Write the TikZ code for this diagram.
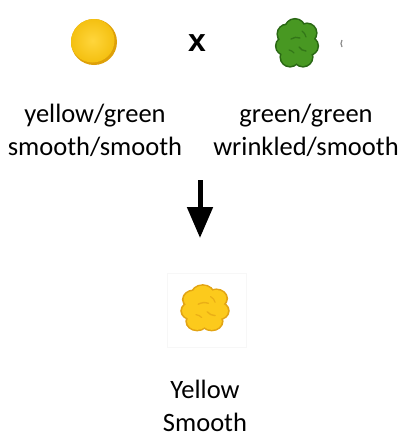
\documentclass[tikz,border=0pt]{standalone}
\usepackage{fontspec}
\setmainfont{Carlito}
\newfontfamily\crossfont{Liberation Sans}
\usetikzlibrary{arrows.meta}

\definecolor{goldfill}{RGB}{244,192,16}
\definecolor{goldedge}{RGB}{222,160,8}
\definecolor{goldlight}{RGB}{255,214,60}
\definecolor{leaf}{RGB}{72,152,34}
\definecolor{leafdark}{RGB}{42,104,20}
\definecolor{sunfill}{RGB}{252,202,28}
\definecolor{sunedge}{RGB}{226,164,20}

\tikzset{
  peatext/.style={font=\fontsize{26.5}{33}\selectfont, align=center, inner sep=0pt, anchor=base},
  peaframe/.style={draw=black!3, line width=0.6pt, inner sep=0pt},
  % a wrinkled seed: union of lumps with a darker rim and a few creases
  pics/wrinkled/.style 2 args={code={
    \foreach \dx/\dy/\r in {-2/-14/9.5, 10/-10/9, 12/3/8.5, 6/14/9, -7/14/9, -12/3/8.5, -10/-9/9, 0/0/13}
      \fill[#2] (\dx,\dy) circle[radius=\r+1.6];
    \foreach \dx/\dy/\r in {-2/-14/9.5, 10/-10/9, 12/3/8.5, 6/14/9, -7/14/9, -12/3/8.5, -10/-9/9, 0/0/13}
      \fill[#1] (\dx,\dy) circle[radius=\r];
    \draw[#2!70!#1, line width=1.4pt, line cap=round] (-6,-4) to[bend left=25] (3,-5);
    \draw[#2!70!#1, line width=1.4pt, line cap=round] (2,4) to[bend right=25] (9,8);
    \draw[#2!70!#1, line width=1.2pt, line cap=round] (-8,7) to[bend left=20] (-3,10);
    \draw[#2!70!#1, line width=1.2pt, line cap=round] (5,-12) to[bend left=20] (9,-6);
  }}
}

\begin{document}
\begin{tikzpicture}[x=1pt, y=-1pt]
\useasboundingbox (0,0) rectangle (405,437);

% parent 1: round yellow seed
\node[peaframe, draw=none, minimum width=70pt, minimum height=72pt] (parentA) at (94,42) {};
\fill[goldedge] (parentA.center) circle[radius=23];
\begin{scope}
  \clip (parentA.center) circle[radius=23];
  \shade[inner color=goldlight, outer color=goldfill] ([shift={(-1.5,-1.5)}]parentA.center) circle[radius=22];
\end{scope}

% cross sign
\node[font=\crossfont\bfseries\fontsize{32}{32}\selectfont, inner sep=0pt] (cross) at (197,43) {x};

% parent 2: wrinkled green seed
\node[peaframe, draw=none, minimum width=68pt, minimum height=62pt] (parentB) at (297,43) {};
\pic at (parentB.center) {wrinkled={leaf}{leafdark}};
\coordinate (markT) at (342,40);
\coordinate (markB) at (342,47);
\draw[black!45, line width=1.2pt] (markT) to[bend right=30] (markB);

% parent labels
\node[peatext] (parentAtxt) at (95,155) {yellow/green\\smooth/smooth};
\node[peatext] (parentBtxt) at (306,155) {green/green\\wrinkled/smooth};

% arrow to the offspring
\coordinate (arrowTop) at (200,180);
\coordinate (arrowTip) at (200,238);
\draw[line width=5pt, -{Triangle[width=25pt, length=31pt]}] (arrowTop) -- (arrowTip);

% offspring: wrinkled yellow seed
\node[peaframe, minimum width=79pt, minimum height=74pt] (child) at (207,310) {};
\pic[xscale=1.12, yscale=0.95] at ([shift={(-2,-2)}]child.center) {wrinkled={sunfill}{sunedge}};

\node[peatext] (childtxt) at (205,431) {Yellow\\Smooth};
\end{tikzpicture}
\end{document}
